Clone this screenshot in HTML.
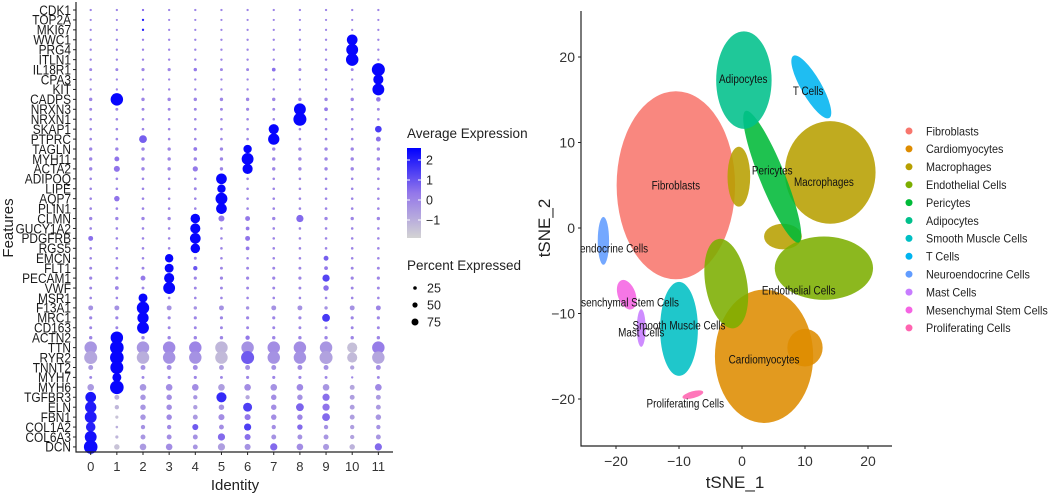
<!DOCTYPE html>
<html><head><meta charset="utf-8"><style>
html,body{margin:0;padding:0;background:#fff;}
svg{display:block;font-family:"Liberation Sans",sans-serif;}
</style></head><body>
<svg id="fig" width="1052" height="498" viewBox="0 0 1052 498" xmlns="http://www.w3.org/2000/svg">
<defs>
<linearGradient id="cbar" x1="0" y1="1" x2="0" y2="0">
<stop offset="0" stop-color="#d3d3d3"/><stop offset="0.5" stop-color="#9377ea"/><stop offset="1" stop-color="#0000ff"/>
</linearGradient>
<clipPath id="tclip"><rect x="581" y="0" width="320" height="446"/></clipPath>
</defs>
<g id="dot"></g>
<g id="tsne"></g>
</svg>
<script>
// ---------- Dot plot data ----------
const genes = ["CDK1","TOP2A","MKI67","WWC1","PRG4","ITLN1","IL18R1","CPA3","KIT","CADPS","NRXN3","NRXN1","SKAP1","PTPRC","TAGLN","MYH11","ACTA2","ADIPOQ","LIPE","AQP7","PLIN1","CLMN","GUCY1A2","PDGFRB","RGS5","EMCN","FLT1","PECAM1","VWF","MSR1","F13A1","MRC1","CD163","ACTN2","TTN","RYR2","TNNT2","MYH7","MYH6","TGFBR3","ELN","FBN1","COL1A2","COL6A3","DCN"];
const identities = ["0","1","2","3","4","5","6","7","8","9","10","11"];
const pctExpressed = [
[3,3,3,3,3,3,3,3,3,3,3,3],
[2,2,3,2,2,2,2,2,2,2,2,2],
[2,2,3,2,2,2,2,2,2,2,2,2],
[3,3,3,3,3,3,3,3,3,3,75,3],
[3,3,3,3,3,3,3,3,3,3,85,3],
[3,3,3,3,3,3,3,3,3,3,90,3],
[8,8,10,10,12,8,8,15,8,8,8,95],
[3,3,3,3,3,3,3,3,3,3,3,70],
[3,3,3,3,3,3,3,3,3,3,3,85],
[12,90,12,12,12,12,12,12,12,12,12,22],
[8,8,8,8,8,8,10,8,85,15,8,8],
[5,5,5,5,5,5,5,5,95,5,5,5],
[5,5,5,5,5,5,5,70,5,5,5,40],
[5,5,50,5,5,5,5,80,5,5,5,25],
[12,12,12,12,15,12,55,12,12,12,12,12],
[12,25,12,12,12,12,85,12,12,12,12,12],
[12,35,12,12,28,12,70,12,12,12,12,12],
[5,5,5,5,5,75,5,5,5,5,5,5],
[5,5,5,5,8,55,5,5,5,5,5,5],
[5,30,5,5,5,85,5,5,5,5,5,5],
[5,5,5,5,5,75,5,5,5,5,5,5],
[12,12,12,12,65,35,25,12,45,12,12,12],
[5,5,5,5,70,5,15,5,5,5,5,5],
[25,5,5,5,75,5,25,5,5,5,5,5],
[5,5,5,5,65,5,15,5,5,5,5,5],
[5,5,5,55,8,5,5,5,5,25,5,5],
[8,8,8,60,20,8,8,8,8,15,8,8],
[10,10,25,70,10,10,10,10,10,45,10,10],
[8,15,8,85,8,8,8,8,8,30,8,8],
[5,5,60,5,5,5,5,5,5,5,5,5],
[25,25,90,25,12,25,12,25,25,12,25,25],
[10,10,80,10,10,10,10,10,10,50,10,10],
[8,8,85,8,8,8,8,8,8,8,8,8],
[12,90,12,12,12,12,20,12,12,12,12,12],
[90,100,90,90,90,90,90,90,90,90,70,90],
[95,100,90,90,90,90,95,90,90,95,70,90],
[25,95,25,25,25,25,25,25,25,25,20,25],
[8,60,8,10,10,8,10,10,10,8,3,8],
[40,100,40,40,40,40,40,40,40,40,25,40],
[75,25,30,30,20,70,20,30,30,45,25,25],
[80,20,30,30,20,30,60,30,50,45,25,25],
[85,10,30,30,25,35,35,30,30,50,25,30],
[65,5,20,20,35,25,45,20,30,20,20,20],
[85,10,25,25,25,45,35,25,25,25,20,25],
[100,30,40,40,25,45,35,45,40,35,30,45]
];
const avgExpression = [
[0,0,0.5,0,0,0,0,0,0,0,0,0],
[0,0,2,0,0,0,0,0,0,0,0,0],
[0,0,2,0,0,0,0,0,0,0,0,0],
[0,0,0,0,0,0,0,0,0,0,2.5,0],
[0,0,0,0,0,0,0,0,0,0,2.5,0],
[0,0,0,0,0,0,0,0,0,0,2.5,0],
[0,0,0,0,0.3,0,0,0.5,0,0,0,2.5],
[0,0,0,0,0,0,0,0,0,0,0,2.5],
[0,0,0,0,0,0,0,0,0,0,0,2.5],
[0,2.5,0,0,0,0,0,0,0,0,0,0.3],
[0,0,0,0,0,0,0,0,2.5,0.3,0,0],
[0,0,0,0,0,0,0,0,2.5,0,0,0],
[0,0,0,0,0,0,0,2.5,0,0,0,1.5],
[0,0,0.8,0,0,0,0,2.5,0,0,0,0.5],
[0,0,0,0,0.3,0,2.5,0,0,0,0,0],
[0,0.4,0,0,0,0,2.5,0,0,0,0,0],
[0,0.4,0,0,0.3,0,2.5,0,0,0,0,0],
[0,0,0,0,0,2.5,0,0,0,0,0,0],
[0,0,0,0,0,2.5,0,0,0,0,0,0],
[0,0.4,0,0,0,2.5,0,0,0,0,0,0],
[0,0,0,0,0,2.5,0,0,0,0,0,0],
[0,0,0,0,2.5,0.3,0.3,0,0.6,0,0,0],
[0,0,0,0,2.5,0,0.3,0,0,0,0,0],
[0.5,0,0,0,2.5,0,0.4,0,0,0,0,0],
[0,0,0,0,2.5,0,0.3,0,0,0,0,0],
[0,0,0,2.5,0,0,0,0,0,0.8,0,0],
[0,0,0,2.5,1,0,0,0,0,0.3,0,0],
[0,0,0.3,2.5,0,0,0,0,0,1.3,0,0],
[0,0,0,2.5,0,0,0,0,0,0.5,0,0],
[0,0,2.5,0,0,0,0,0,0,0,0,0],
[-0.3,-0.3,2.5,-0.3,-0.3,-0.3,-0.3,-0.3,-0.3,-0.3,-0.3,0],
[0,0,2.5,0,0,0,0,0,0,1.5,0,0],
[0,0,2.5,0,0,0,0,0,0,0,0,0],
[0,2.5,0,0,0,0,0.3,0,0,0,0,0],
[-0.4,2.5,-0.4,-0.1,0,-1.2,-0.3,-0.2,-0.2,-0.4,-1.4,0.2],
[-0.8,2.5,-1,-0.3,-0.3,-1.3,0.9,-0.3,-0.3,-0.7,-1.3,-0.8],
[-0.5,2.5,-0.3,-0.2,-0.2,-0.6,-0.3,-0.3,-0.2,-0.3,-0.7,-0.2],
[0,2.5,0,0,0,0,0,0,0,0,0,0],
[-0.5,2.5,-0.4,-0.2,-0.2,-0.6,-0.2,-0.3,-0.1,-0.4,-0.8,-0.1],
[2.2,-1.1,-0.4,-0.2,-0.4,1.8,-0.8,-0.2,-0.3,0.5,-0.6,-0.5],
[2.1,-1.2,-0.4,-0.2,-0.6,-0.3,1.4,-0.2,0.7,0.4,-0.6,-0.5],
[2.1,-1.5,-0.4,-0.1,-0.5,-0.2,0.3,-0.2,0,0.6,-0.6,-0.4],
[2,-1,-0.3,-0.1,0.9,-0.2,1.4,-0.2,0.6,-0.3,-0.6,-0.3],
[2.3,-1.2,-0.4,-0.2,-0.3,0.6,0.5,-0.3,-0.3,-0.4,-0.7,-0.4],
[2.4,-1.5,-0.5,-0.2,-0.4,-0.6,-0.3,0.6,-0.2,-0.5,-1.1,0.6]
];
const xTickLabels = identities;
const colorTicks = [2,1,0,-1];
const sizeLegend = [25,50,75];

// ---------- tSNE data (cluster shapes in tSNE units) ----------
const cellTypes = ["Fibroblasts","Cardiomyocytes","Macrophages","Endothelial Cells","Pericytes","Adipocytes","Smooth Muscle Cells","T Cells","Neuroendocrine Cells","Mast Cells","Mesenchymal Stem Cells","Proliferating Cells"];
const typeColors = ["#F8766D","#DE8C00","#B79F00","#7CAE00","#00BA38","#00C08B","#00BFC4","#00B4F0","#619CFF","#C77CFF","#F564E3","#FF64B0"];
// blobs: type index, centre x, centre y, radius x, radius y, rotation (deg)
const blobType = [0,1,1,2,2,2,3,3,4,5,6,7,8,9,10,11];
const blobX =    [-10.5,3.5,10,14,-0.5,6.5,13,-2.5,4.8,0.3,-10,11,-22,-16,-18.3,-7.8];
const blobY =    [5,-15,-14,6.5,6,-1,-4.7,-6.5,6,17.3,-11.8,16.5,-1.5,-11.7,-7.8,-19.5];
const blobRx =   [9.4,7.8,2.8,7.2,1.8,3,7.8,3.3,2,4.4,3,1.6,0.9,0.7,1.4,1.7];
const blobRy =   [11,7.8,2.2,6,3.5,1.5,3.7,5.3,8.3,5.7,5.5,4.2,2.8,2.2,1.8,0.4];
const blobRot =  [0,0,0,0,0,0,0,-10,-22,0,0,-30,0,0,-20,-15];
const labelX = [-10.5,3.5,13,9,4.8,0.2,-10,10.5,-14.9,-16,-10,-9];
const labelY = [5,-15.4,5.4,-7.3,6.7,17.4,-11.4,16,-2.4,-12.2,-8.7,-20.5];
const labelAnchor = ["middle","middle","middle","middle","middle","middle","middle","middle","end","middle","end","middle"];
const tsneXTicks = [-20,-10,0,10,20];
const tsneYTicks = [20,10,0,-10,-20];
const NS="http://www.w3.org/2000/svg";
function mk(parent,tag,attrs,text){const e=document.createElementNS(NS,tag);for(const k in attrs)e.setAttribute(k,attrs[k]);if(text!==undefined)e.textContent=text;parent.appendChild(e);return e;}
function squeeze(el,f){const w=el.getComputedTextLength();if(w>0){el.setAttribute('textLength',(w*f).toFixed(1));el.setAttribute('lengthAdjust','spacingAndGlyphs');}}

// ---------- Dot plot ----------
const dot=document.getElementById('dot');
const xCol=i=>90.7+i*26.15;
const yRow=j=>10+j*9.93;
const rOf=p=>1.0+p*0.058;
function lerp(a,b,t){return a.map((v,i)=>Math.round(v+(b[i]-v)*t));}
function colOf(e){let t=(e+1.9)/4.5;t=Math.max(0,Math.min(1,t));
 const lo=[211,211,211],mid=[147,119,234],hi=[0,0,255];
 const c=t<0.5?lerp(lo,mid,t/0.5):lerp(mid,hi,(t-0.5)/0.5);
 return `rgb(${c[0]},${c[1]},${c[2]})`;}
genes.forEach((g,j)=>{
 const lab=mk(dot,'text',{x:71,y:yRow(j)+4.8,'text-anchor':'end','font-size':'13.5','fill':'#1a1a1a'},g);
 
 
 squeeze(lab,0.88);
 identities.forEach((id,i)=>{
  const c=mk(dot,'circle',{cx:xCol(i),cy:yRow(j),r:rOf(pctExpressed[j][i]),fill:colOf(avgExpression[j][i])});
  
  
 });
});
let ax=mk(dot,'line',{x1:76,y1:2,x2:76,y2:452.5,stroke:'#222','stroke-width':1.2});

ax=mk(dot,'line',{x1:75.5,y1:452,x2:393,y2:452,stroke:'#222','stroke-width':1.2});

xTickLabels.forEach((t,i)=>{
 mk(dot,'line',{x1:xCol(i),y1:452,x2:xCol(i),y2:455,stroke:'#222'});
 const tl=mk(dot,'text',{x:xCol(i),y:471,'text-anchor':'middle','font-size':'13','fill':'#333'},t);
 
});
genes.forEach((g,j)=>mk(dot,'line',{x1:73,y1:yRow(j),x2:76,y2:yRow(j),stroke:'#222'}));
let tt=mk(dot,'text',{x:235,y:490,'text-anchor':'middle','font-size':'15','fill':'#222'},'Identity');

tt=mk(dot,'text',{x:0,y:0,'text-anchor':'middle','font-size':'15','fill':'#222',transform:'translate(13,228) rotate(-90)'},'Features');

// colour legend
tt=mk(dot,'text',{x:407,y:138,'font-size':'13.5','fill':'#222'},'Average Expression');

const cb=mk(dot,'rect',{x:407,y:148,width:14,height:90,fill:'url(#cbar)'});

const cY=v=>148+(2.6-v)*20;
colorTicks.forEach(v=>{
 mk(dot,'line',{x1:407,y1:cY(v),x2:410,y2:cY(v),stroke:'#fff'});
 mk(dot,'line',{x1:418,y1:cY(v),x2:421,y2:cY(v),stroke:'#fff'});
 const l=mk(dot,'text',{x:426,y:cY(v)+4.5,'font-size':'12.5','fill':'#222'},v<0?'\u2212'+Math.abs(v):String(v));
 
});
tt=mk(dot,'text',{x:407,y:270,'font-size':'13.5','fill':'#222'},'Percent Expressed');

const legR=[1.8,2.6,3.5];
sizeLegend.forEach((p,k)=>{
 const y=288+k*17;
 const c=mk(dot,'circle',{cx:415,cy:y,r:legR[k],fill:'#000'});
 
 const l=mk(dot,'text',{x:427,y:y+4.5,'font-size':'12.5','fill':'#222'},String(p));
 
});

// ---------- tSNE ----------
const ts=document.getElementById('tsne');
const tx=v=>742+v*6.3;
const ty=v=>228-v*8.55;
const pg=mk(ts,'g',{'clip-path':'url(#tclip)'});
blobType.forEach((t,k)=>{
 const e=mk(pg,'ellipse',{cx:tx(blobX[k]),cy:ty(blobY[k]),rx:blobRx[k]*6.3,ry:blobRy[k]*8.55,fill:typeColors[t],opacity:0.88,
  transform:`rotate(${blobRot[k]} ${tx(blobX[k])} ${ty(blobY[k])})`});
 
 
});
cellTypes.forEach((n,k)=>{
 const l=mk(pg,'text',{x:tx(labelX[k]),y:ty(labelY[k])+4,'text-anchor':labelAnchor[k],'font-size':'11.5','fill':'#111'},n);
 
 
 squeeze(l,0.86);
});
ax=mk(ts,'line',{x1:581,y1:11,x2:581,y2:446.5,stroke:'#222','stroke-width':1.2});

ax=mk(ts,'line',{x1:580.5,y1:446,x2:892,y2:446,stroke:'#222','stroke-width':1.2});

tsneXTicks.forEach(v=>{
 mk(ts,'line',{x1:tx(v),y1:446,x2:tx(v),y2:449,stroke:'#222'});
 const l=mk(ts,'text',{x:tx(v),y:466,'text-anchor':'middle','font-size':'14','fill':'#333'},v<0?'\u2212'+Math.abs(v):String(v));
 
});
tsneYTicks.forEach(v=>{
 mk(ts,'line',{x1:578,y1:ty(v),x2:581,y2:ty(v),stroke:'#222'});
 const l=mk(ts,'text',{x:575,y:ty(v)+5,'text-anchor':'end','font-size':'14','fill':'#333'},v<0?'\u2212'+Math.abs(v):String(v));
 
});
tt=mk(ts,'text',{x:735,y:488,'text-anchor':'middle','font-size':'17','fill':'#222'},'tSNE_1');

tt=mk(ts,'text',{x:0,y:0,'text-anchor':'middle','font-size':'17','fill':'#222',transform:'translate(550,228) rotate(-90)'},'tSNE_2');

cellTypes.forEach((n,k)=>{
 const y=131+k*17.9;
 const c=mk(ts,'circle',{cx:909,cy:y,r:3.5,fill:typeColors[k]});
 
 const l=mk(ts,'text',{x:926,y:y+4.3,'font-size':'12','fill':'#222'},n);
 
 squeeze(l,0.9);
});
</script>
</body></html>
